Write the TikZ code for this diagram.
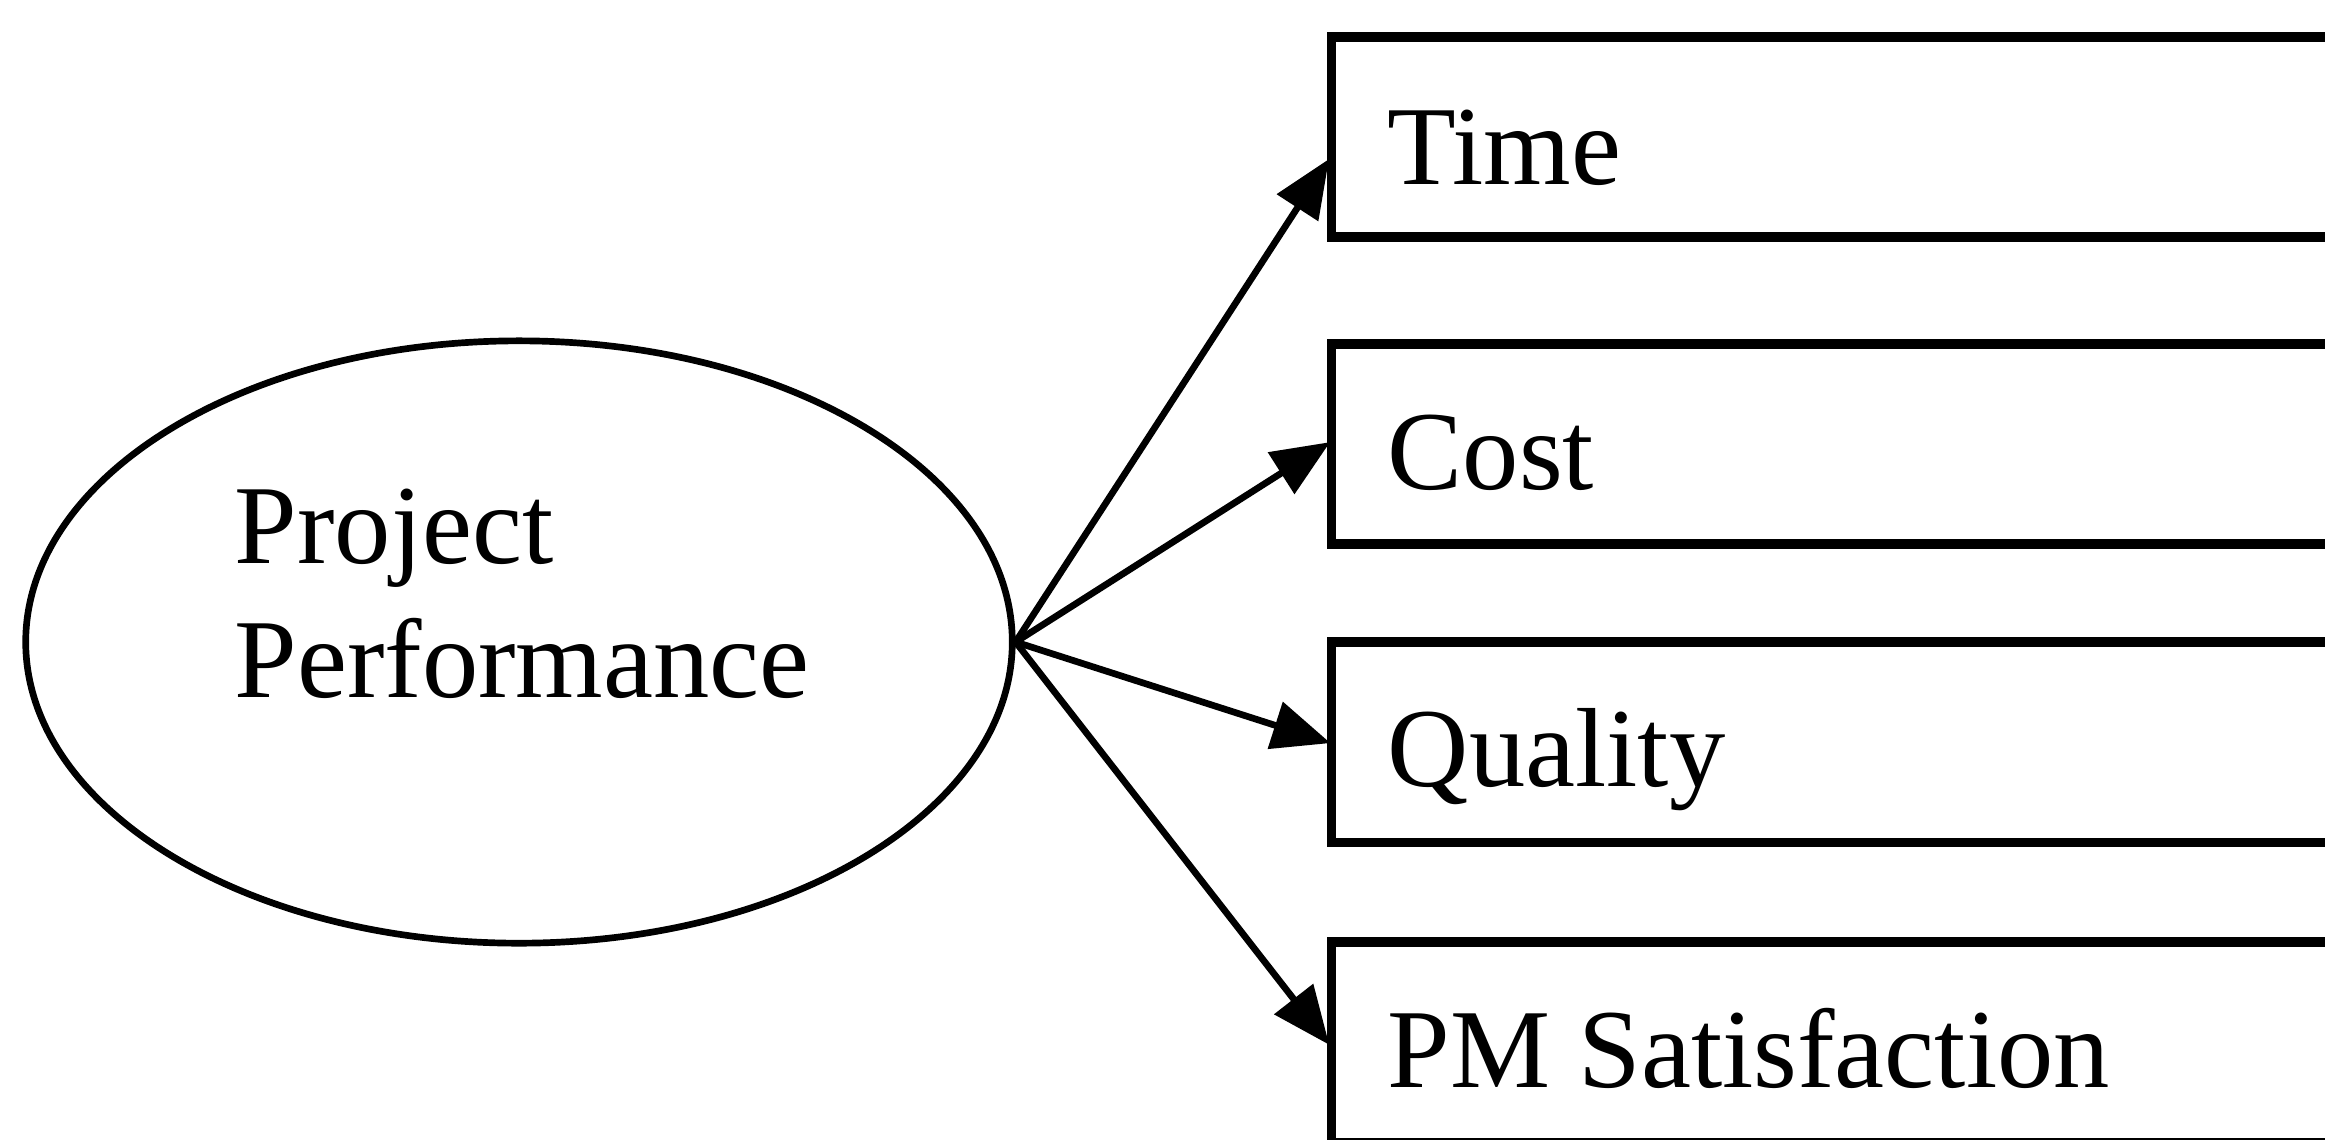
\documentclass[tikz,border=0pt]{standalone}
\usepackage{fontspec}
\setmainfont{Liberation Serif}
\usetikzlibrary{shapes.geometric,arrows.meta}

\begin{document}
\begin{tikzpicture}[x=0.01cm,y=-0.01cm,
  lbl/.style={inner sep=0pt,font=\fontsize{32}{38}\selectfont},
  measurebox/.style={draw,line width=2.6pt,minimum width=12cm,minimum height=2cm,inner sep=0pt},
  construct/.style={draw,ellipse,line width=1.9pt,minimum width=9.86cm,minimum height=6.02cm,inner sep=0pt},
  link/.style={line width=1.9pt,-{Triangle[length=0.58cm,width=0.48cm]},shorten >=-1pt}
]
\useasboundingbox (0,0) rectangle (2325,1139);
\fill[white] (0,0) rectangle (2325,1139);
\clip (0,0) rectangle (2325,1139);

% latent construct
\node[construct] (pp) at (519,642) {};
\node[lbl,anchor=base west] (ppA) at (234,563) {Project};
\node[lbl,anchor=base west] (ppB) at (234,697) {Performance};

% indicator boxes (they run past the right edge)
\node[measurebox] (time) at (1932,137) {};
\node[measurebox] (cost) at (1932,444) {};
\node[measurebox] (qual) at (1932,742) {};
\node[measurebox] (pms)  at (1932,1042) {};

\node[lbl,anchor=base west] (timeT) at ([xshift=0.6cm,yshift=-0.47cm]time.west) {Time};
\node[lbl,anchor=base west] (costT) at ([xshift=0.6cm,yshift=-0.45cm]cost.west) {Cost};
\node[lbl,anchor=base west] (qualT) at ([xshift=0.6cm,yshift=-0.44cm]qual.west) {Quality};
\node[lbl,anchor=base west] (pmsT)  at ([xshift=0.6cm,yshift=-0.45cm]pms.west) {PM Satisfaction};

% arrows from the construct to its indicators
\draw[link] (pp.east) -- ([yshift=-0.25cm]time.west);
\draw[link] (pp.east) -- (cost.west);
\draw[link] (pp.east) -- (qual.west);
\draw[link] (pp.east) -- (pms.west);
\end{tikzpicture}
\end{document}
